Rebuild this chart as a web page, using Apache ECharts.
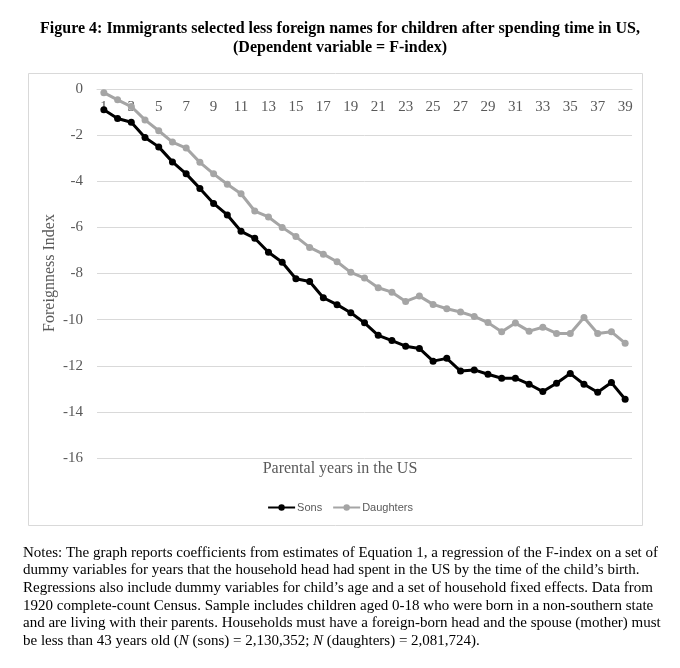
<!DOCTYPE html>
<html>
<head>
<meta charset="utf-8">
<script src="https://cdn.jsdelivr.net/npm/echarts@6/dist/echarts.min.js"></script>
<style>html,body{margin:0;padding:0;background:#fff;}#c{width:680px;height:668px;}</style>
</head>
<body>
<div id="c"></div>
<script>
const years = Array.from({length: 39}, (_, i) => String(i + 1));
const sons = [-0.90,-1.28,-1.44,-2.10,-2.51,-3.16,-3.68,-4.31,-4.96,-5.46,
  -6.17,-6.47,-7.08,-7.51,-8.23,-8.35,-9.05,-9.35,-9.70,-10.14,
  -10.68,-10.91,-11.15,-11.25,-11.80,-11.68,-12.23,-12.18,-12.37,-12.54,
  -12.54,-12.80,-13.12,-12.76,-12.34,-12.80,-13.15,-12.73,-13.45];
const daughters = [-0.16,-0.47,-0.76,-1.34,-1.81,-2.30,-2.56,-3.18,-3.68,-4.13,
  -4.54,-5.29,-5.55,-6.00,-6.40,-6.87,-7.16,-7.49,-7.95,-8.20,
  -8.62,-8.81,-9.21,-8.98,-9.34,-9.53,-9.67,-9.86,-10.13,-10.53,
  -10.15,-10.50,-10.33,-10.60,-10.60,-9.91,-10.60,-10.53,-11.02];
const titleText = 'Figure 4: Immigrants selected less foreign names for children after spending time in US,\n(Dependent variable = F-index)';
const xName = 'Parental years in the US';
const yName = 'Foreignness Index';
const notesLines = [
  'Notes: The graph reports coefficients from estimates of Equation 1, a regression of the F-index on a set of',
  'dummy variables for years that the household head had spent in the US by the time of the child\u2019s birth.',
  'Regressions also include dummy variables for child\u2019s age and a set of household fixed effects. Data from',
  '1920 complete-count Census. Sample includes children aged 0-18 who were born in a non-southern state',
  'and are living with their parents. Households must have a foreign-born head and the spouse (mother) must',
  'be less than 43 years old ({i|N} (sons) = 2,130,352; {i|N} (daughters) = 2,081,724).'
];

const serif = '"Liberation Serif", "Times New Roman", serif';
const chart = echarts.init(document.getElementById('c'), null, {renderer: 'canvas'});
chart.setOption({
  animation: false,
  backgroundColor: '#ffffff',
  title: {
    text: titleText,
    left: 'center',
    top: 14,
    textStyle: {fontFamily: serif, fontWeight: 'bold', fontSize: 16, lineHeight: 19, color: '#000'}
  },
  grid: {left: 97, right: 48, top: 89, bottom: 210, containLabel: false},
  legend: {
    data: ['Sons', 'Daughters'],
    top: 497,
    left: 'center',
    itemWidth: 27,
    itemHeight: 8,
    itemGap: 10,
    textStyle: {fontFamily: '"Liberation Sans", "Open Sans", sans-serif', fontSize: 11, color: '#595959', padding: [0, 0, 0, -3]}
  },
  xAxis: {
    type: 'category',
    data: years,
    boundaryGap: true,
    position: 'top',
    axisLine: {show: true, onZero: false, lineStyle: {color: '#d9d9d9', width: 1}},
    axisTick: {show: false},
    axisLabel: {inside: true, interval: 1, margin: 11, fontFamily: serif, fontSize: 15, color: '#595959'},
    splitLine: {show: false}
  },
  yAxis: {
    type: 'value',
    min: -16, max: 0, interval: 2,
    axisLine: {show: false},
    axisTick: {show: false},
    axisLabel: {margin: 14, fontFamily: serif, fontSize: 15, color: '#595959'},
    splitLine: {lineStyle: {color: '#d9d9d9', width: 1}}
  },
  series: [
    {name: 'Sons', type: 'line', data: sons, symbol: 'circle', symbolSize: 7,
      itemStyle: {color: '#000000'}, lineStyle: {color: '#000000', width: 3}, z: 3},
    {name: 'Daughters', type: 'line', data: daughters, symbol: 'circle', symbolSize: 7,
      itemStyle: {color: '#a5a5a5'}, lineStyle: {color: '#a5a5a5', width: 3}, z: 2}
  ],
  graphic: [
    {type: 'rect', shape: {x: 28.5, y: 73.5, width: 614, height: 452},
      style: {fill: 'none', stroke: '#d9d9d9', lineWidth: 1}, silent: true, z: -1},
    {type: 'text', x: 50, y: 273, rotation: Math.PI / 2,
      style: {text: yName, fontFamily: serif, fontSize: 16, fill: '#595959', align: 'center', verticalAlign: 'middle'}},
    {type: 'text', left: 'center', top: 461, style: {text: xName, fontFamily: serif, fontSize: 16, fill: '#595959'}},
    {type: 'text', left: 23, top: 544, style: {
      text: notesLines.join('\n'), fontFamily: serif, fontSize: 15, lineHeight: 17.6, fill: '#000',
      rich: {i: {fontFamily: serif, fontSize: 15, fontStyle: 'italic', fill: '#000', lineHeight: 17.6}}
    }}
  ]
});
</script>
</body>
</html>
